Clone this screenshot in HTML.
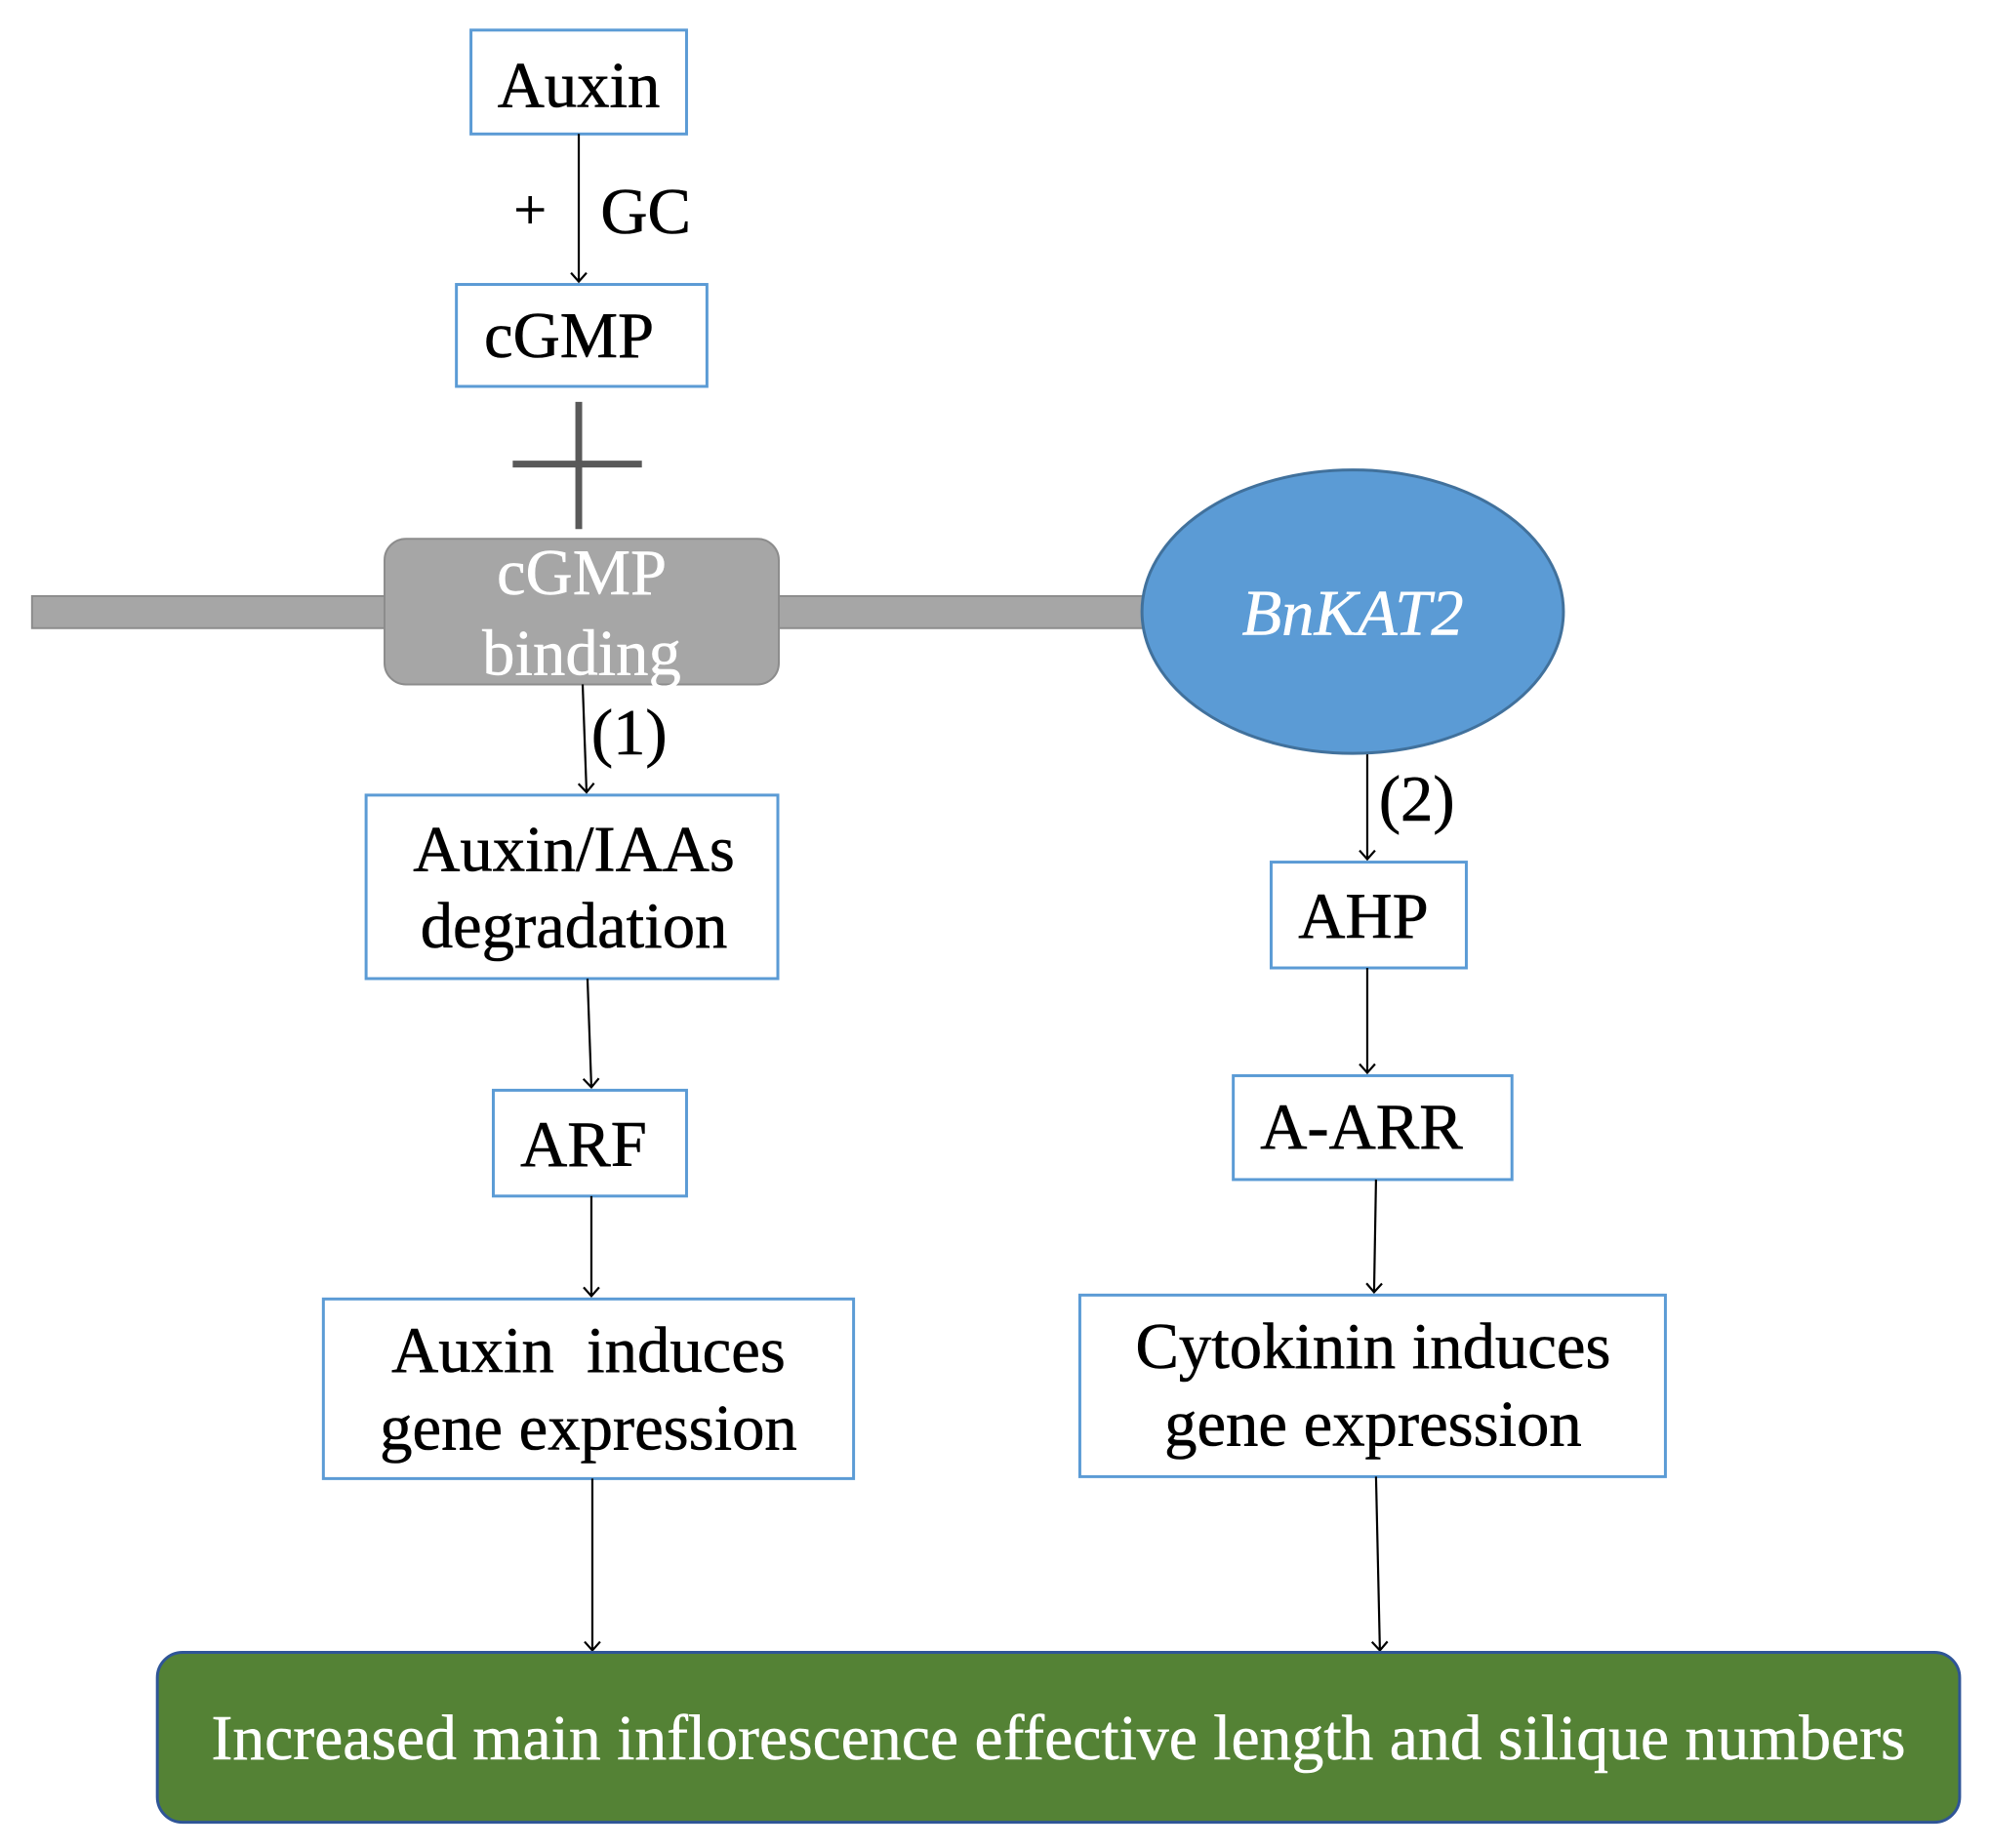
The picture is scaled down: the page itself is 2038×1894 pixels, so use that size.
<!DOCTYPE html>
<html><head><meta charset="utf-8"><style>
html,body{margin:0;padding:0;background:#fff;}
svg{display:block;}
text{font-family:"Liberation Serif",serif;}
</style></head><body>
<svg width="2038" height="1894" viewBox="0 0 2038 1894" xmlns="http://www.w3.org/2000/svg">
<defs>
<marker id="a" markerWidth="20" markerHeight="20" refX="10" refY="10" orient="auto" markerUnits="userSpaceOnUse">
<path d="M1,2 L10,10 L1,18" fill="none" stroke="#000" stroke-width="2.2"/>
</marker>
</defs>
<g transform="scale(0.995)">
<g fill="#fff" stroke="#5b9bd5" stroke-width="3">
<rect x="485" y="31" width="222" height="107"/>
<rect x="470" y="293" width="258" height="105"/>
<rect x="377" y="819" width="424" height="189"/>
<rect x="508" y="1123" width="199" height="109"/>
<rect x="333" y="1338" width="546" height="185"/>
<rect x="1309" y="888" width="201" height="109"/>
<rect x="1270" y="1108" width="287" height="107"/>
<rect x="1112" y="1334" width="603" height="187"/>
</g>
<rect x="33" y="614" width="1160" height="33" fill="#a6a6a6" stroke="#8c8c8c" stroke-width="2"/>
<rect x="396" y="555" width="406" height="150" rx="22" fill="#a6a6a6" stroke="#8c8c8c" stroke-width="2"/>
<ellipse cx="1393" cy="630" rx="217" ry="146" fill="#5b9bd5" stroke="#41719c" stroke-width="3"/>
<g stroke="#595959" stroke-width="7">
<line x1="596" y1="414" x2="596" y2="545"/>
<line x1="528" y1="478" x2="661" y2="478"/>
</g>
<g stroke="#000" stroke-width="2.2" fill="none" marker-end="url(#a)">
<line x1="596" y1="138" x2="596" y2="290"/>
<line x1="600" y1="705" x2="604" y2="816"/>
<line x1="605" y1="1008" x2="609" y2="1120"/>
<line x1="609" y1="1232" x2="609" y2="1335"/>
<line x1="610" y1="1523" x2="610" y2="1700"/>
<line x1="1408" y1="777" x2="1408" y2="885"/>
<line x1="1408" y1="997" x2="1408" y2="1105"/>
<line x1="1417" y1="1215" x2="1415" y2="1331"/>
<line x1="1417" y1="1521" x2="1421" y2="1700"/>
</g>
<rect x="162" y="1702" width="1856" height="175" rx="26" fill="#548235" stroke="#2f5597" stroke-width="3"/>
<g font-size="67" fill="#000" text-anchor="middle" stroke="#000" stroke-width="0.6">
<text x="596" y="110">Auxin</text>
<text x="546" y="236" font-size="60">+</text>
<text x="665" y="240">GC</text>
<text x="586" y="368">cGMP</text>
<text x="648" y="777">(1)</text>
<text x="591" y="897">Auxin/IAAs</text>
<text x="591" y="976">degradation</text>
<text x="601" y="1201">ARF</text>
<text x="606" y="1413" xml:space="preserve">Auxin  induces</text>
<text x="606" y="1493">gene expression</text>
<text x="1459" y="845">(2)</text>
<text x="1404" y="966">AHP</text>
<text x="1402" y="1183">A-ARR</text>
<text x="1414" y="1409">Cytokinin induces</text>
<text x="1414" y="1489">gene expression</text>
</g>
<g font-size="67" fill="#fff" text-anchor="middle" stroke="#fff" stroke-width="0.5">
<text x="599" y="612">cGMP</text>
<text x="599" y="695">binding</text>
<text x="1393" y="654" font-style="italic">BnKAT2</text>
<text x="1090" y="1812" font-size="66">Increased main inflorescence effective length and silique numbers</text>
</g>
</g>
</svg>
</body></html>
